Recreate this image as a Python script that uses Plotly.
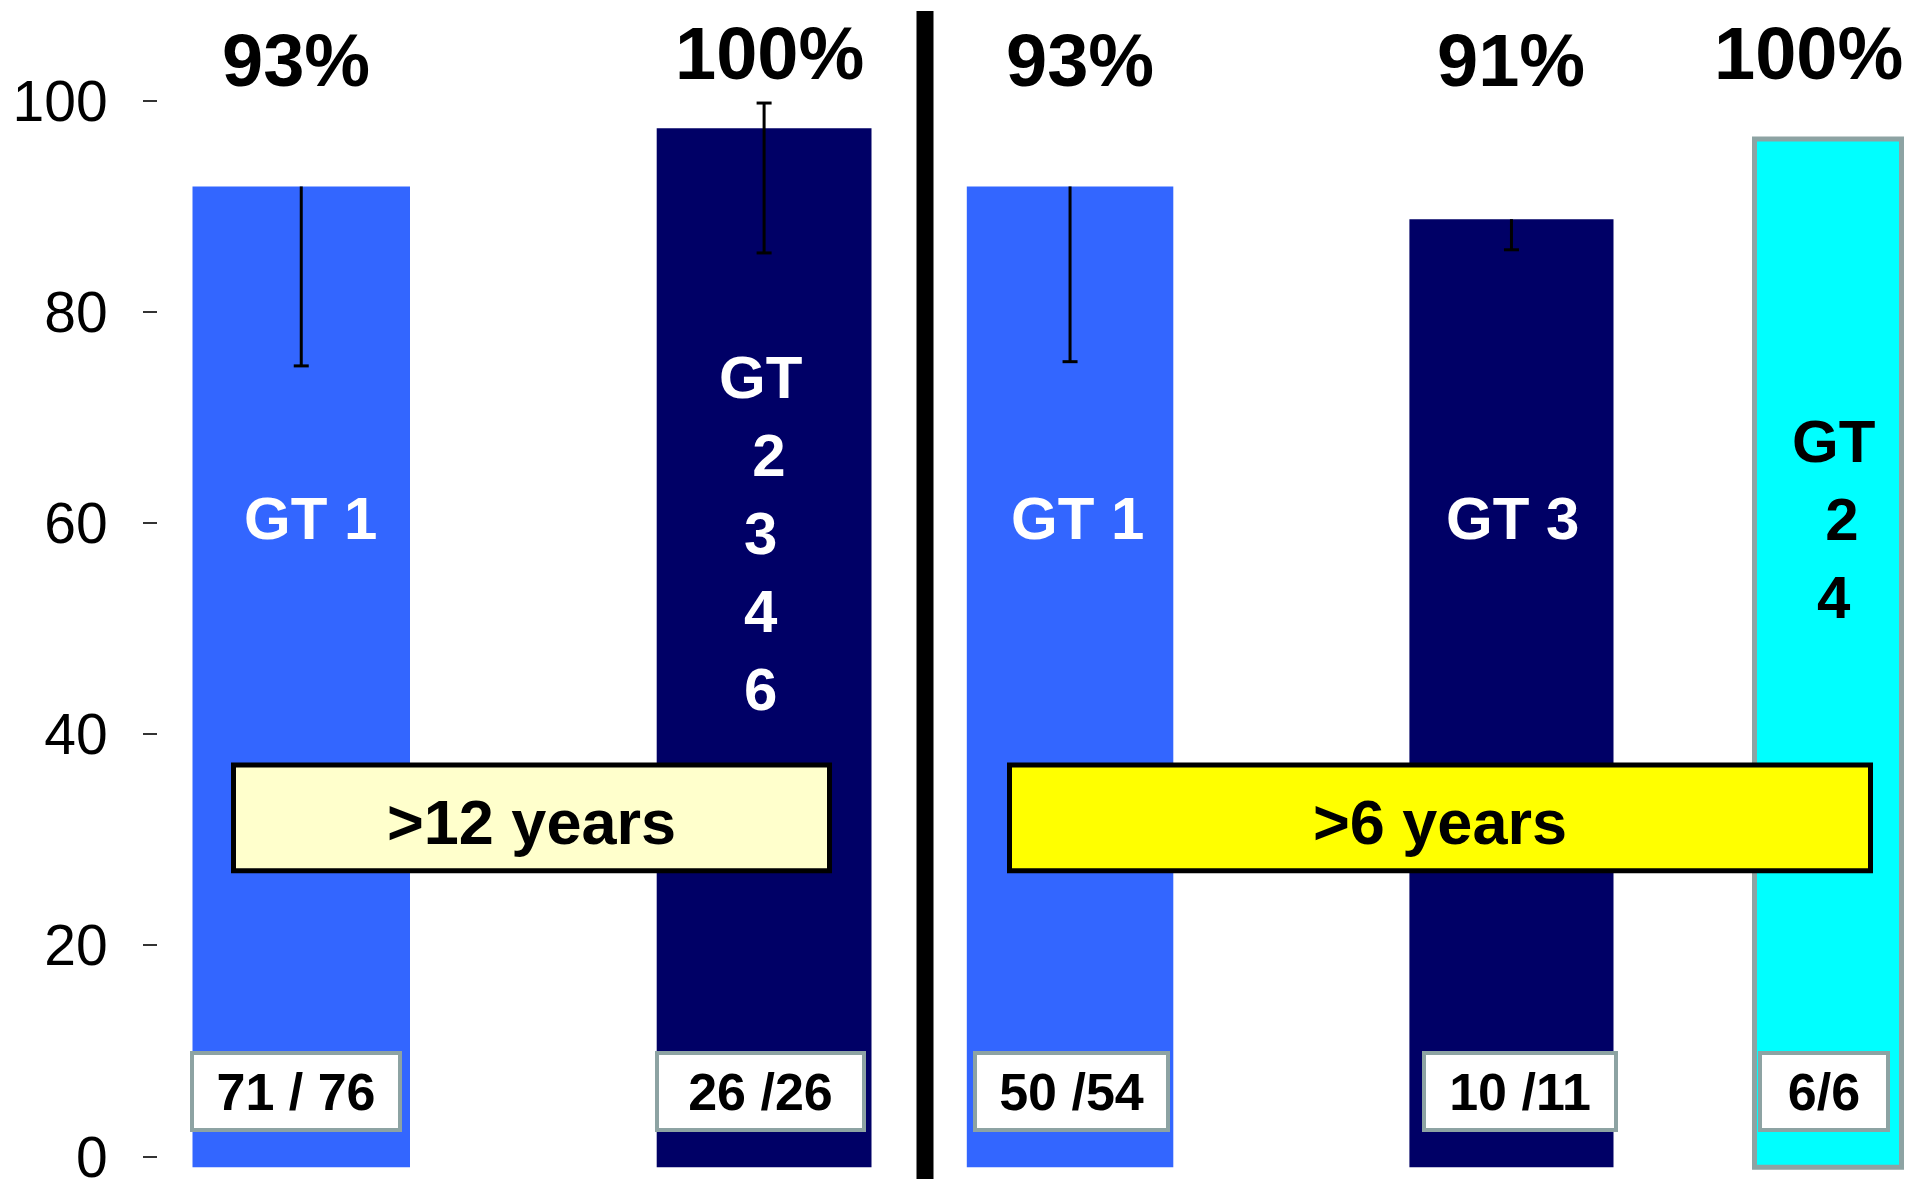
import plotly.graph_objects as go

# ---------------- data ----------------
categories = ["GT 1 (>12 years)", "GT 2/3/4/6 (>12 years)", "GT 1 (>6 years)",
              "GT 3 (>6 years)", "GT 2/4 (>6 years)"]
svr_values = [91.9, 97.4, 91.9, 88.8, 96.4]
err_minus = [17.0, 11.8, 16.6, 2.9, 0.0]
err_plus = [0.0, 2.4, 0.0, 0.0, 0.0]
pct_labels = ["93%", "100%", "93%", "91%", "100%"]
gt_labels = ["GT 1", "GT<br>\u00a02<br>3<br>4<br>6", "GT 1", "GT 3", "GT<br>\u00a02<br>4"]
count_labels = ["71 / 76", "26 /26", "50 /54", "10 /11", "6/6"]
group_labels = [">12 years", ">6 years"]
y_tickvals = [0, 20, 40, 60, 80, 100]

# ---------------- layout / style constants ----------------
W, H = 1907, 1179
ML = 158
UNIT = (W - ML) / len(categories)
Y_RANGE = [-2.12, 109.56]
BASE = -1.0
FONT = "Liberation Sans, Arial, sans-serif"

bar_colors = ["#3366FF", "#000066", "#3366FF", "#000066", "#00FFFF"]
bar_line_colors = ["#3366FF", "#000066", "#3366FF", "#000066", "#8DA3A3"]
bar_line_widths = [0, 0, 0, 0, 5]
bar_left_px = [192.5, 656.7, 966.8, 1409.4, 1754.5]
bar_width_px = [217.5, 214.8, 206.5, 204.1, 147.0]

pct_y_px = [61, 54, 61, 61, 54]
pct_xshift = [-5, 5, 10, 0, -20]
gt_y_px = [518, 534, 518, 518, 519]
gt_xshift = [9, -4, 7, 1, 5]
gt_colors = ["white", "white", "white", "white", "black"]
count_cx_px = [296, 760, 1071.5, 1520, 1824]
count_w_px = [212, 211, 197, 196, 132]
count_cy_px = 1091
count_h_px = 81
group_x_px = [(231, 832), (1007, 1873)]
group_y_px = (762.6, 873.2)
group_text_y_px = 822
group_fill = ["#FFFFCC", "#FFFF00"]


def pxx(x):
    return (x - ML) / (W - ML)


def pyy(y):
    return 1 - y / H


offsets = [(l - (ML + (i + 0.5) * UNIT)) / UNIT for i, l in enumerate(bar_left_px)]
widths = [w / UNIT for w in bar_width_px]
centers = [i + o + w / 2 for i, (o, w) in enumerate(zip(offsets, widths))]

fig = go.Figure()
fig.add_trace(go.Bar(
    x=categories,
    y=[v - BASE for v in svr_values],
    base=BASE,
    offset=offsets,
    width=widths,
    customdata=svr_values,
    hovertemplate="%{x}: %{customdata}%<extra></extra>",
    marker=dict(color=bar_colors, line=dict(color=bar_line_colors, width=bar_line_widths)),
    error_y=dict(type="data", symmetric=False, array=err_plus, arrayminus=err_minus,
                 width=0, thickness=3, color="black"),
    showlegend=False,
))

shapes = []
cap = 7.5 / UNIT
for c, v, em, ep in zip(centers, svr_values, err_minus, err_plus):
    if em > 0:
        shapes.append(dict(type="line", xref="x", yref="y", x0=c - cap, x1=c + cap,
                           y0=v - em, y1=v - em, line=dict(color="black", width=3)))
    if ep > 0:
        shapes.append(dict(type="line", xref="x", yref="y", x0=c - cap, x1=c + cap,
                           y0=v + ep, y1=v + ep, line=dict(color="black", width=3)))
# divider
shapes.append(dict(type="line", xref="paper", yref="paper", x0=pxx(925), x1=pxx(925),
                   y0=pyy(11), y1=0, line=dict(color="black", width=17)))
# group boxes
for (x0, x1), fill in zip(group_x_px, group_fill):
    shapes.append(dict(type="rect", xref="paper", yref="paper", layer="above",
                       x0=pxx(x0 + 2.5), x1=pxx(x1 - 2.5),
                       y0=pyy(group_y_px[1] - 2.5), y1=pyy(group_y_px[0] + 2.5),
                       fillcolor=fill, line=dict(color="black", width=5)))

annotations = []
for i, c in enumerate(centers):
    annotations.append(dict(x=c, xref="x", y=pyy(pct_y_px[i]), yref="paper",
                            text=pct_labels[i], showarrow=False, xshift=pct_xshift[i],
                            xanchor="center", yanchor="middle",
                            font=dict(family=FONT, size=74, color="black", weight="bold")))
    annotations.append(dict(x=c, xref="x", y=pyy(gt_y_px[i]), yref="paper",
                            text=gt_labels[i], showarrow=False, xshift=gt_xshift[i],
                            xanchor="center", yanchor="middle", align="center",
                            font=dict(family=FONT, size=60, color=gt_colors[i], weight="bold")))
    annotations.append(dict(x=pxx(count_cx_px[i]), xref="paper", y=pyy(count_cy_px), yref="paper",
                            text=count_labels[i], showarrow=False,
                            xanchor="center", yanchor="middle",
                            width=count_w_px[i] - 8, height=count_h_px - 8,
                            bgcolor="white", bordercolor="#8DA3A3", borderwidth=4, borderpad=0,
                            font=dict(family=FONT, size=52, color="black", weight="bold")))
for (x0, x1), lab in zip(group_x_px, group_labels):
    annotations.append(dict(x=pxx((x0 + x1) / 2), xref="paper",
                            y=pyy(group_text_y_px), yref="paper",
                            text=lab, showarrow=False, xanchor="center", yanchor="middle",
                            font=dict(family=FONT, size=63, color="black", weight="bold")))

fig.update_layout(
    width=W, height=H,
    margin=dict(l=ML, r=0, t=0, b=0, autoexpand=False),
    paper_bgcolor="white", plot_bgcolor="white",
    font=dict(family=FONT),
    shapes=shapes,
    annotations=annotations,
    xaxis=dict(type="category", range=[-0.5, len(categories) - 0.5], showticklabels=False,
               showgrid=False, zeroline=False, showline=False, ticks="", automargin=False),
    yaxis=dict(range=Y_RANGE, tickvals=y_tickvals, ticks="outside", ticklen=14,
               tickwidth=1.5, tickcolor="#333333", ticklabelstandoff=24,
               ticklabeloverflow="allow", automargin=False,
               showgrid=False, zeroline=False, showline=False,
               tickfont=dict(family=FONT, size=57, color="black")),
)

fig.write_html("out.html")
